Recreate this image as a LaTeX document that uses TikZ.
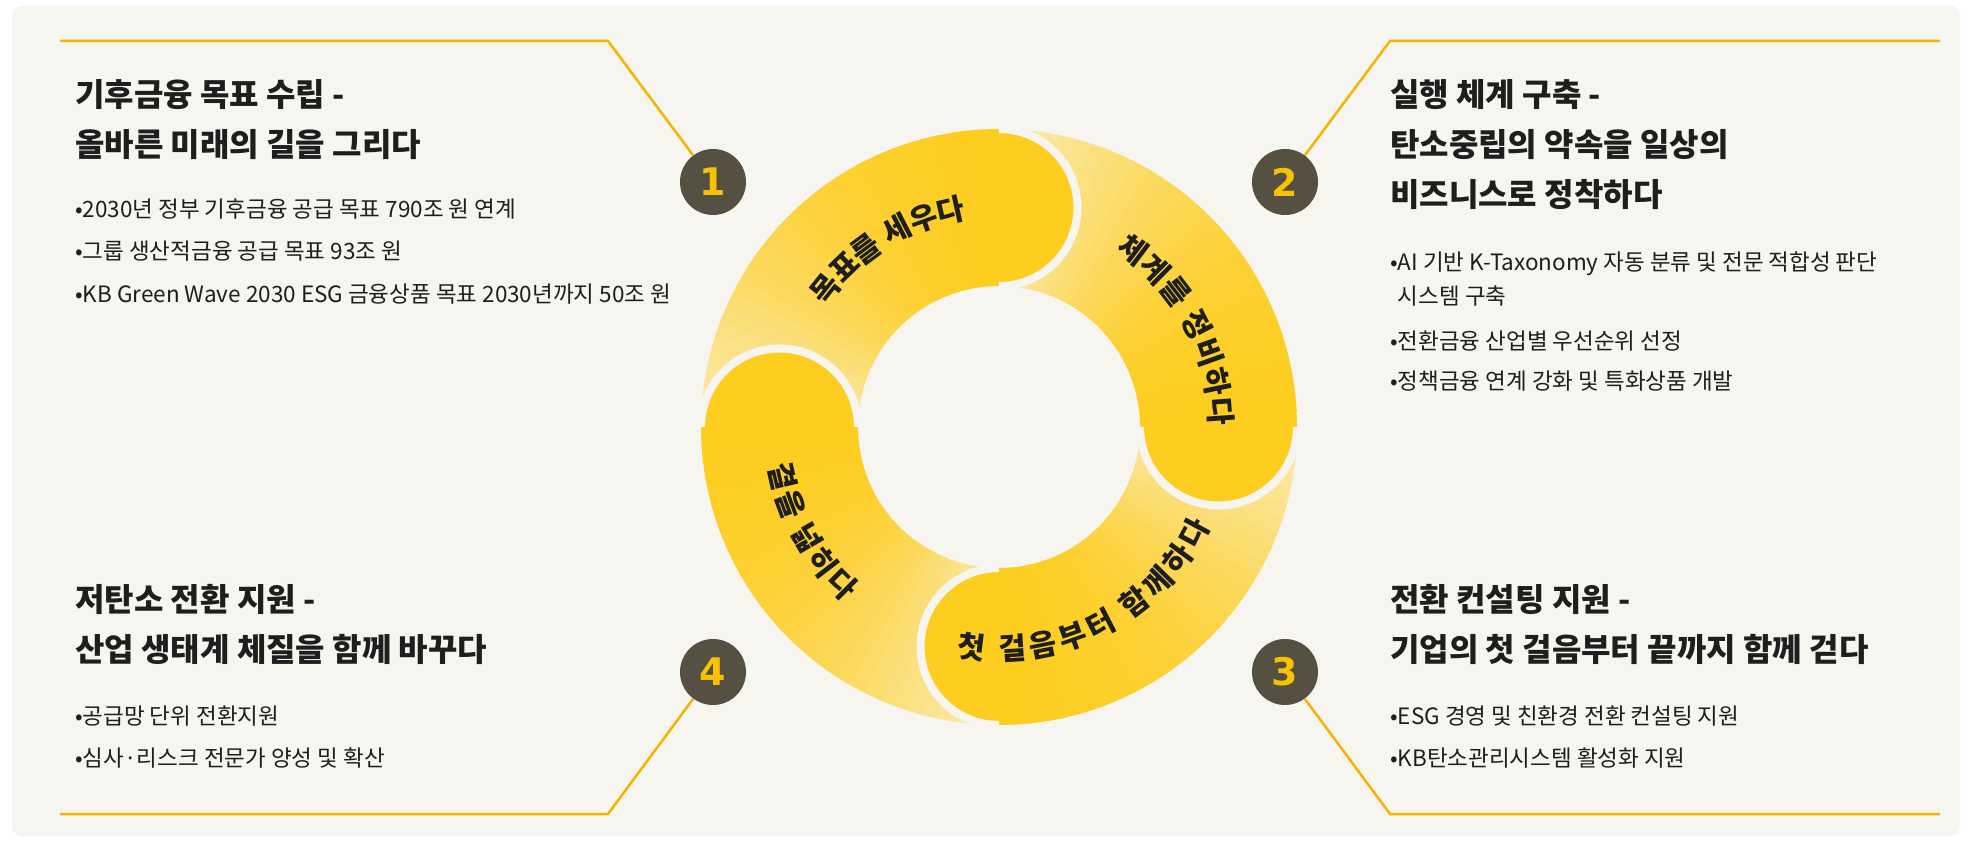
\documentclass[tikz,border=0pt]{standalone}
\usepackage{fontspec}
\setmainfont{Noto Sans CJK KR}
\newfontfamily\numfont{DejaVu Sans}
\usetikzlibrary{decorations.text}

\definecolor{panelbg}{HTML}{F6F5F0}
\definecolor{leadline}{HTML}{F5B400}
\definecolor{dotfill}{HTML}{555042}
\definecolor{dotnum}{HTML}{F7C200}
\definecolor{ringhead}{HTML}{FDCD20}
\definecolor{ringtail}{HTML}{FAF0D2}
\definecolor{inktext}{HTML}{1E1E1E}

\newcommand{\titlesize}{\fontsize{32}{32}\selectfont\bfseries}
\newcommand{\bodysize}{\fontsize{22.5}{22.5}\selectfont}
\newcommand{\ringsize}{\fontsize{30}{30}\selectfont\bfseries}

\tikzset{
  leader/.style={draw=leadline, line width=2.5},
  numdot/.style={circle, fill=dotfill, minimum size=66, inner sep=0, text=dotnum,
    font=\numfont\bfseries\fontsize{38}{38}\selectfont},
  headline/.style={anchor=base west, inner sep=0, text=inktext, font=\titlesize},
  bulletline/.style={anchor=base west, inner sep=0, text=inktext, font=\bodysize},
  capborder/.style={draw=panelbg, line width=8},
  ringlabel/.style={decorate, decoration={text along path, text align={fit to path},
    raise=-11pt, text color=inktext, text={|\ringsize|#1}}},
}

\begin{document}
\begin{tikzpicture}[x=1pt, y=1pt]
  \useasboundingbox (0,0) rectangle (1969,843);
  \fill[white] (0,0) rectangle (1969,843);
  \fill[panelbg, rounded corners=10] (12,7) rectangle (1960,837);

  \coordinate (C) at (999,416);

  % ring: four fading arcs, head at 0/90/180/270
  \begin{scope}[shift={(C)}]
    \foreach \h in {0,90,180,270}
      \foreach \i in {0,...,29}{
        \pgfmathsetmacro\angA{\h+3*\i}
        \pgfmathsetmacro\angB{min(\h+3*\i+3.4,\h+90)}
        \pgfmathsetmacro\pct{100-85*(\i/29)^2}
        \fill[ringhead!\pct!ringtail] (\angA:298) arc[start angle=\angA, end angle=\angB, radius=298]
          -- (\angB:141) arc[start angle=\angB, end angle=\angA, radius=141] -- cycle;
      }
    % round heads
    \foreach \h in {0,90,180,270}
      \filldraw[fill=ringhead, capborder] (\h:298) arc[start angle=\h, end angle=\h-180, radius=78.5];

    \path[ringlabel={목표를 세우다}] (145:222) arc[start angle=145, end angle=99, radius=222];
    \path[ringlabel={체계를 정비하다}] (56.5:222) arc[start angle=56.5, end angle=0.5, radius=222];
    \path[ringlabel={첫 걸음부터 함께하다}] (-100.6:222) arc[start angle=-100.6, end angle=-24.9, radius=222];
    \path[ringlabel={결을 넓히다}] (189.4:222) arc[start angle=189.4, end angle=228.6, radius=222];
  \end{scope}

  % numbered dots
  \node[numdot] (n1) at (713,661) {1};
  \node[numdot] (n2) at (1285,661) {2};
  \node[numdot] (n3) at (1285,171) {3};
  \node[numdot] (n4) at (713,171) {4};

  % leader lines
  \coordinate (e1) at (60,802);   \coordinate (k1) at (608,802);
  \coordinate (e2) at (1940,802); \coordinate (k2) at (1390,802);
  \coordinate (e3) at (1940,29);  \coordinate (k3) at (1390,29);
  \coordinate (e4) at (60,29);    \coordinate (k4) at (608,29);
  \draw[leader] (e1) -- (k1) -- (n1);
  \draw[leader] (e2) -- (k2) -- (n2);
  \draw[leader] (e3) -- (k3) -- (n3);
  \draw[leader] (e4) -- (k4) -- (n4);

  % block 1
  \node[headline] (t1a) at (75,736) {기후금융 목표 수립 -};
  \node[headline] (t1b) at (75,686) {올바른 미래의 길을 그리다};
  \node[bulletline] (b1a) at (75,625) {•2030년 정부 기후금융 공급 목표 790조 원 연계};
  \node[bulletline] (b1b) at (75,583) {•그룹 생산적금융 공급 목표 93조 원};
  \node[bulletline] (b1c) at (75,540) {•KB Green Wave 2030 ESG 금융상품 목표 2030년까지 50조 원};

  % block 2
  \node[headline] (t2a) at (1390,736) {실행 체계 구축 -};
  \node[headline] (t2b) at (1390,686) {탄소중립의 약속을 일상의};
  \node[headline] (t2c) at (1390,636) {비즈니스로 정착하다};
  \node[bulletline] (b2a) at (1390,572) {•AI 기반 K-Taxonomy 자동 분류 및 전문 적합성 판단};
  \node[bulletline] (b2b) at (1390,538) {\phantom{•}시스템 구축};
  \node[bulletline] (b2c) at (1390,493) {•전환금융 산업별 우선순위 선정};
  \node[bulletline] (b2d) at (1390,453) {•정책금융 연계 강화 및 특화상품 개발};

  % block 3
  \node[headline] (t3a) at (1390,231) {전환 컨설팅 지원 -};
  \node[headline] (t3b) at (1390,181) {기업의 첫 걸음부터 끝까지 함께 걷다};
  \node[bulletline] (b3a) at (1390,118) {•ESG 경영 및 친환경 전환 컨설팅 지원};
  \node[bulletline] (b3b) at (1390,77) {•KB탄소관리시스템 활성화 지원};

  % block 4
  \node[headline] (t4a) at (75,231) {저탄소 전환 지원 -};
  \node[headline] (t4b) at (75,181) {산업 생태계 체질을 함께 바꾸다};
  \node[bulletline] (b4a) at (75,118) {•공급망 단위 전환지원};
  \node[bulletline] (b4b) at (75,77) {•심사·리스크 전문가 양성 및 확산};
\end{tikzpicture}
\end{document}
